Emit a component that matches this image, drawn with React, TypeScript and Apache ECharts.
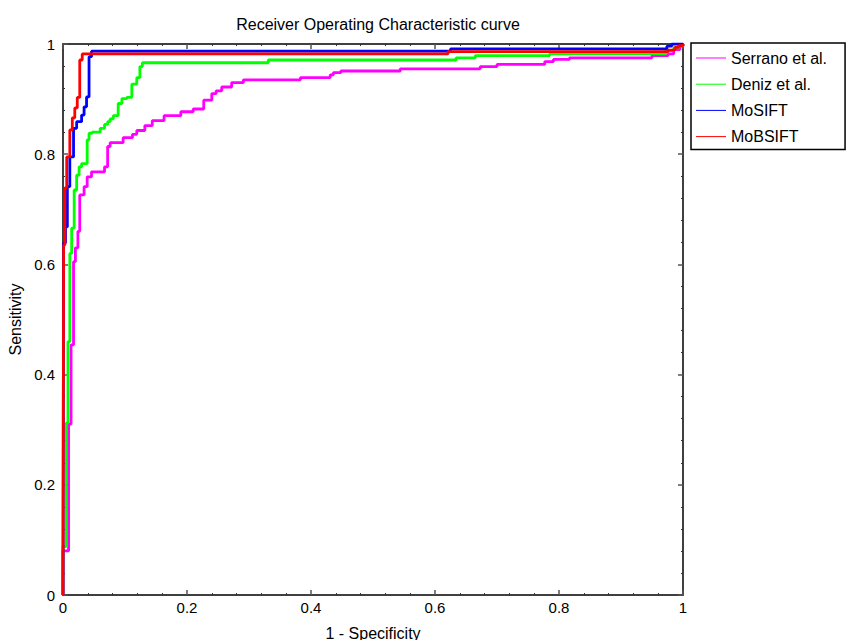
import React, { useEffect, useRef } from "react";
import * as echarts from "echarts";

const seriesNames = ["Serrano et al.", "Deniz et al.", "MoSIFT", "MoBSIFT"];
const seriesColors = ["#ff00ff", "#00ff00", "#0000ff", "#ff0000"];

// [1 - specificity, sensitivity] staircase vertices (step: end)
const serrano: number[][] = [
  [0, 0], [0, 0.08], [0.009, 0.31], [0.013, 0.454], [0.017, 0.605], [0.02, 0.63],
  [0.024, 0.66], [0.027, 0.726], [0.034, 0.741], [0.039, 0.759], [0.046, 0.768],
  [0.067, 0.777], [0.072, 0.814], [0.076, 0.821], [0.097, 0.83], [0.112, 0.836],
  [0.119, 0.843], [0.132, 0.852], [0.144, 0.861], [0.163, 0.87], [0.19, 0.877],
  [0.21, 0.882], [0.227, 0.898], [0.24, 0.91], [0.247, 0.915], [0.256, 0.922],
  [0.272, 0.93], [0.291, 0.935], [0.383, 0.939], [0.431, 0.944], [0.436, 0.948],
  [0.448, 0.951], [0.544, 0.955], [0.673, 0.959], [0.7, 0.963], [0.777, 0.968],
  [0.791, 0.972], [0.817, 0.975], [0.95, 0.979], [0.976, 0.982], [0.985, 0.99],
  [0.995, 0.996], [1, 1],
];
const deniz: number[][] = [
  [0, 0], [0, 0.088], [0.005, 0.312], [0.008, 0.46], [0.011, 0.62], [0.014, 0.666],
  [0.018, 0.735], [0.022, 0.762], [0.026, 0.777], [0.03, 0.783], [0.039, 0.826],
  [0.042, 0.838], [0.047, 0.84], [0.06, 0.847], [0.067, 0.854], [0.072, 0.859],
  [0.076, 0.864], [0.081, 0.87], [0.089, 0.892], [0.095, 0.901], [0.103, 0.903],
  [0.111, 0.927], [0.119, 0.939], [0.124, 0.959], [0.128, 0.966], [0.331, 0.971],
  [0.634, 0.975], [0.665, 0.979], [0.785, 0.982], [0.972, 0.988], [0.985, 0.993],
  [0.993, 0.997], [1, 1],
];
const mosift: number[][] = [
  [0, 0], [0.001, 0.639], [0.004, 0.668], [0.007, 0.741], [0.011, 0.795],
  [0.017, 0.847], [0.022, 0.859], [0.03, 0.871], [0.034, 0.886], [0.038, 0.904],
  [0.042, 0.977], [0.046, 0.987], [0.625, 0.991], [0.974, 0.996], [0.982, 1], [1, 1],
];
const mobsift: number[][] = [
  [0, 0], [0.001, 0.635], [0.003, 0.739], [0.006, 0.795], [0.011, 0.844],
  [0.015, 0.866], [0.019, 0.884], [0.023, 0.903], [0.027, 0.971], [0.031, 0.982],
  [0.621, 0.986], [0.976, 0.989], [0.987, 0.994], [0.993, 0.997], [1, 1],
];
const allData = [serrano, deniz, mosift, mobsift];

const FONT = "'Liberation Sans', Arial, sans-serif";

export default function App() {
  const ref = useRef<HTMLDivElement>(null);
  useEffect(() => {
    if (!ref.current) return;
    const chart = echarts.init(ref.current, undefined, { renderer: "svg" });
    const valueAxisBase = {
      type: "value",
      min: 0,
      max: 1,
      interval: 0.2,
      splitLine: { show: false },
      axisLine: { show: true, onZero: false, lineStyle: { color: "#000", width: 1.5 } },
      axisTick: { show: true, inside: true, length: 5, lineStyle: { color: "#555", width: 1.5 } },
      minorTick: { show: true, splitNumber: 5, length: 2, lineStyle: { color: "#333", width: 1 } },
    };
    chart.setOption({
      animation: false,
      backgroundColor: "#fff",
      textStyle: { fontFamily: FONT },
      title: {
        text: "Receiver Operating Characteristic curve",
        left: 373,
        top: 11,
        textAlign: "center",
        textStyle: { fontSize: 16, fontWeight: "normal", color: "#000", fontFamily: FONT },
      },
      legend: {
        orient: "vertical",
        left: 691,
        top: 43,
        padding: [7, 18, 5, 5],
        itemGap: 10.2,
        itemWidth: 30,
        itemHeight: 14,
        borderColor: "#000",
        borderWidth: 1.5,
        backgroundColor: "#fff",
        icon: "path://M0,7 L30,7 L30,8 L0,8 Z",
        textStyle: { fontSize: 16, color: "#000", fontFamily: FONT },
        data: seriesNames,
      },
      grid: { left: 63, right: 163, top: 44, bottom: 45, containLabel: false, outerBoundsMode: "none" },
      xAxis: [
        {
          ...valueAxisBase,
          position: "bottom",
          name: "1 - Specificity",
          nameLocation: "middle",
          nameGap: 30,
          nameTextStyle: { fontSize: 16, color: "#000", fontFamily: FONT },
          axisLabel: { fontSize: 15, color: "#000", margin: 5, fontFamily: FONT },
        },
        {
          ...valueAxisBase,
          position: "top",
          axisLabel: { show: false },
        },
      ],
      yAxis: [
        {
          ...valueAxisBase,
          position: "left",
          name: "Sensitivity",
          nameLocation: "middle",
          nameGap: 33,
          nameTextStyle: { fontSize: 16, color: "#000", fontFamily: FONT },
          axisLabel: { fontSize: 15, color: "#000", margin: 8, fontFamily: FONT },
        },
        {
          ...valueAxisBase,
          position: "right",
          axisLabel: { show: false },
        },
      ],
      series: allData.map((d, i) => ({
        name: seriesNames[i],
        type: "line",
        step: "end",
        data: d,
        symbol: "none",
        showSymbol: false,
        itemStyle: { color: seriesColors[i] },
        lineStyle: { color: seriesColors[i], width: 2.8 },
        z: 2 + i,
      })),
    });
    return () => chart.dispose();
  }, []);
  return (
    <div
      ref={ref}
      style={{ position: "fixed", left: 0, top: 0, width: 846, height: 640, background: "#fff" }}
    />
  );
}
